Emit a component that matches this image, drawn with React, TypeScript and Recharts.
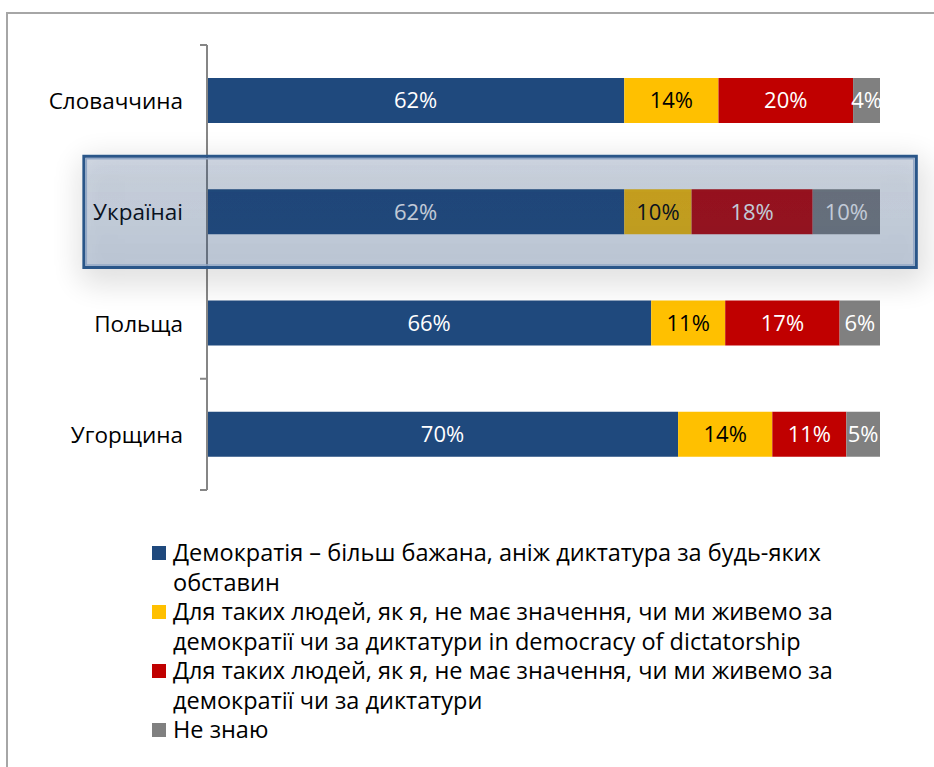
import React from 'react';
import { BarChart, Bar, XAxis, YAxis, LabelList, ReferenceArea, Legend } from 'recharts';

const countries = ['Словаччина', 'Українаі', 'Польща', 'Угорщина'];
const democracy = [62, 62, 66, 70];
const indifferentEn = [14, 10, 11, 14];
const indifferent = [20, 18, 17, 11];
const dontKnow = [4, 10, 6, 5];

const legendLines = [
  ['Демократія – більш бажана, аніж диктатура за будь-яких', 'обставин'],
  ['Для таких людей, як я, не має значення, чи ми живемо за', 'демократії чи за диктатури in democracy of dictatorship'],
  ['Для таких людей, як я, не має значення, чи ми живемо за', 'демократії чи за диктатури'],
  ['Не знаю'],
];
const seriesKeys = ['democracy', 'indifferentEn', 'indifferent', 'dontKnow'];
const seriesColors = ['#1F497D', '#FFC000', '#C00000', '#808080'];
const labelColors = ['#FFFFFF', '#000000', '#FFFFFF', '#FFFFFF'];
const highlighted = 'Українаі';

const data = countries.map((name, i) => ({
  name,
  democracy: democracy[i],
  indifferentEn: indifferentEn[i],
  indifferent: indifferent[i],
  dontKnow: dontKnow[i],
}));

const FONT = '"Open Sans", "Noto Sans", sans-serif';
const AXIS_COLOR = '#868686';
const TICK_MARGIN = 24;

const CategoryTick = (props: any) => {
  const { x, y, payload, index, visibleTicksCount } = props;
  const off = payload && typeof payload.offset === 'number' ? payload.offset : 0;
  const ax = x + TICK_MARGIN;
  const isLast = index === (visibleTicksCount ?? countries.length) - 1;
  return (
    <g>
      <line x1={ax - 7} x2={ax} y1={y - off} y2={y - off} stroke={AXIS_COLOR} strokeWidth={2} />
      {isLast && (
        <line x1={ax - 7} x2={ax} y1={y + off} y2={y + off} stroke={AXIS_COLOR} strokeWidth={2} />
      )}
      <text
        x={x}
        y={y}
        textAnchor="end"
        dominantBaseline="central"
        fill="#000"
        fontSize={22.5}
        fontFamily={FONT}
      >
        {payload.value}
      </text>
    </g>
  );
};

const HighlightShape = (props: any) => {
  const { x, y, width, height } = props;
  return (
    <g>
      <defs>
        <filter id="hlShadow" x="-10%" y="-80%" width="120%" height="260%">
          <feGaussianBlur in="SourceAlpha" stdDeviation="16" result="blur" />
          <feOffset in="blur" dx="3" dy="9" result="off" />
          <feComponentTransfer in="off" result="soft">
            <feFuncA type="linear" slope="0.48" />
          </feComponentTransfer>
          <feComposite in="soft" in2="SourceAlpha" operator="out" result="outside" />
          <feMerge>
            <feMergeNode in="outside" />
            <feMergeNode in="SourceGraphic" />
          </feMerge>
        </filter>
        <linearGradient id="hlFill" x1="0" y1="0" x2="0" y2="1">
          <stop offset="0%" stopColor="rgb(31,73,125)" stopOpacity={0.19} />
          <stop offset="100%" stopColor="rgb(31,73,125)" stopOpacity={0.24} />
        </linearGradient>
      </defs>
      <rect
        x={x}
        y={y}
        width={width}
        height={height}
        fill="url(#hlFill)"
        stroke="#2B5689"
        strokeWidth={3}
        filter="url(#hlShadow)"
      />
      <rect
        x={x + 2.5}
        y={y + 2.5}
        width={width - 5}
        height={height - 5}
        fill="none"
        stroke="#93A8C6"
        strokeWidth={1.5}
      />
    </g>
  );
};

const renderLegend = () => (
  <div style={{ fontFamily: FONT, fontSize: 23.5, lineHeight: '29.5px', color: '#000', whiteSpace: 'nowrap' }}>
    {legendLines.map((lines, i) => (
      <div key={i} style={{ position: 'relative', paddingLeft: 23 }}>
        <span
          style={{
            position: 'absolute',
            left: 2,
            top: 8,
            width: 14,
            height: 14,
            background: seriesColors[i],
          }}
        />
        {lines.map((l, j) => (
          <div key={j}>{l}</div>
        ))}
      </div>
    ))}
  </div>
);

export default function App() {
  return (
    <div
      style={{
        position: 'absolute',
        left: 0,
        top: 0,
        width: 934,
        height: 767,
        background: '#fff',
        overflow: 'hidden',
      }}
    >
      <div
        style={{
          position: 'absolute',
          left: 6,
          top: 12,
          width: 1000,
          height: 1000,
          borderLeft: '2px solid #A6A6A6',
          borderTop: '2px solid #A6A6A6',
        }}
      />
      <div style={{ position: 'absolute', left: 0, top: 0 }}>
        <BarChart
          width={934}
          height={767}
          data={data}
          layout="vertical"
          margin={{ top: 45, right: 54, bottom: 277, left: 206 }}
          barCategoryGap={0}
        >
          <XAxis type="number" domain={[0, 100]} hide />
          <YAxis
            yAxisId="cat"
            type="category"
            dataKey="name"
            width={1}
            axisLine={{ stroke: AXIS_COLOR, strokeWidth: 2 }}
            tickLine={false}
            tickSize={0}
            tickMargin={TICK_MARGIN}
            interval={0}
            tick={CategoryTick}
          />
          {seriesKeys.map((k, i) => (
            <Bar
              key={k}
              dataKey={k}
              name={legendLines[i].join(' ')}
              yAxisId="cat"
              stackId="s"
              fill={seriesColors[i]}
              barSize={45}
              isAnimationActive={false}
            >
              <LabelList
                dataKey={k}
                position="center"
                formatter={(v: any) => `${v}%`}
                fill={labelColors[i]}
                style={{ fontSize: 22, fontFamily: FONT }}
              />
            </Bar>
          ))}
          <ReferenceArea
            yAxisId="cat"
            y1={highlighted}
            y2={highlighted}
            x1={-18.3}
            x2={105.4}
            ifOverflow="visible"
            shape={HighlightShape}
            zIndex={2500}
          />
          <Legend
            layout="horizontal"
            verticalAlign="middle"
            align="center"
            content={renderLegend}
            wrapperStyle={{ position: 'absolute', left: 150, top: 538, width: 720 }}
          />
        </BarChart>
      </div>
    </div>
  );
}
